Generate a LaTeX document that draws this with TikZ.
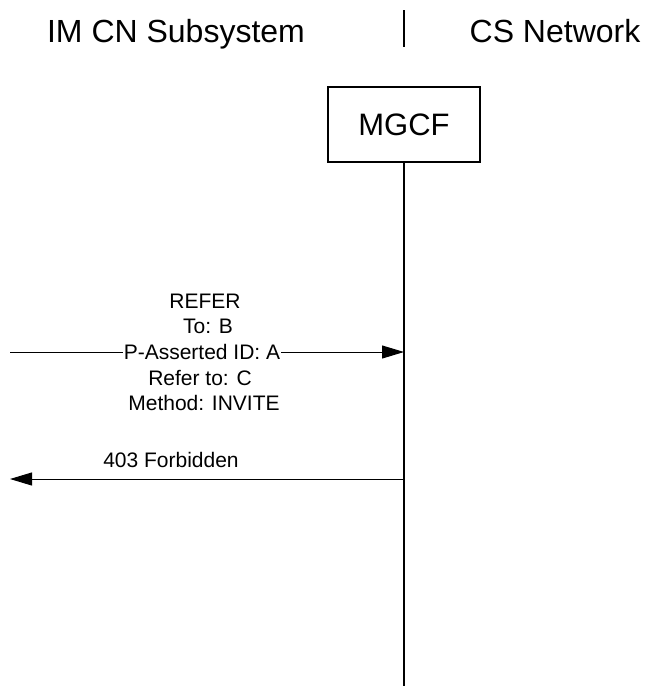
\documentclass[tikz,border=0pt]{standalone}
\usepackage{fontspec}
\setmainfont{Liberation Sans}
\usetikzlibrary{arrows.meta}
\begin{document}
\begin{tikzpicture}[x=1pt,y=-1pt,
  head/.style={font=\fontsize{32}{38}\selectfont, anchor=base, inner sep=0pt},
  lbl/.style={font=\fontsize{21}{25}\selectfont, anchor=base, inner sep=0pt},
  entity/.style={draw, line width=1.2pt, minimum width=152pt, minimum height=75pt, inner sep=0pt, font=\fontsize{31}{37}\selectfont},
  life/.style={line width=1.4pt},
  msg/.style={line width=1pt, -{Triangle[length=22pt,width=13pt]}}]
\useasboundingbox (0,0) rectangle (645,686);
% header
\node[head] (imcn) at (176,42) {IM CN Subsystem};
\node[head] (csn) at (555,42) {CS Network};
\coordinate (sepT) at (404,10);
\coordinate (sepB) at (404,47);
\draw[line width=1.2pt] (sepT) -- (sepB);
% MGCF
\node[entity] (mgcf) at (404,124.5) {MGCF};
\coordinate (lifeEnd) at (404,686);
\draw[life] (mgcf.south) -- (lifeEnd);
% REFER
\coordinate (L1) at (10,352);
\coordinate (M1) at (404,352);
\draw[msg] (L1) -- (M1);
\node[lbl] (r1) at (205,308) {REFER};
\node[lbl] (r2) at (208,333) {To: B};
\node[lbl, fill=white, inner xsep=1pt] (r3) at (202,359.5) {P-Asserted ID: A};
\node[lbl] (r4) at (200,385) {Refer to: C};
\node[lbl] (r5) at (204,410) {Method: INVITE};
% 403
\coordinate (M2) at (404,479);
\coordinate (L2) at (10,479);
\draw[msg] (M2) -- (L2);
\node[lbl] (f1) at (171,467) {403 Forbidden};
\end{tikzpicture}
\end{document}
